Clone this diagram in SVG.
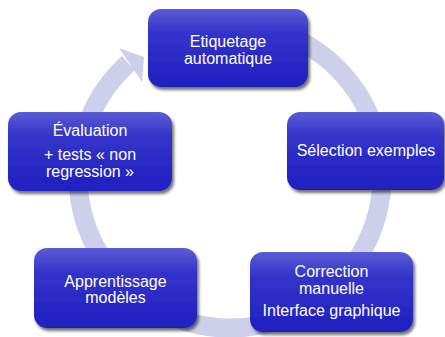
<svg xmlns="http://www.w3.org/2000/svg" width="445" height="337" viewBox="0 0 445 337">
<defs>
<linearGradient id="g" x1="0" y1="0" x2="0" y2="1">
<stop offset="0" stop-color="#5c5cd6"/>
<stop offset="0.3" stop-color="#3434ca"/>
<stop offset="1" stop-color="#1f1fc0"/>
</linearGradient>
<filter id="sh" x="-10%" y="-10%" width="125%" height="130%">
<feDropShadow dx="2" dy="3" stdDeviation="1.8" flood-color="#000" flood-opacity="0.55"/>
</filter>
</defs>
<style>
.box{fill:url(#g);filter:url(#sh);}
.t{fill:#fff;font-family:"Liberation Sans",Arial,sans-serif;font-size:16px;text-anchor:middle;}
.ring{fill:none;stroke:#cdcfeb;stroke-width:19;}
</style>
<g id="connectors">
<path class="ring" d="M216.8,24.6 A152,152 0 1 1 128.3,63.1"/>
<polygon points="119,48 144,57 142,82" fill="#cdcfeb"/>
</g>
<g id="n1">
<rect class="box" x="148" y="9" width="160" height="78" rx="13"/>
<text class="t" x="228" y="47">Etiquetage</text>
<text class="t" x="228" y="63.5">automatique</text>
</g>
<g id="n2">
<rect class="box" x="287" y="112" width="157" height="78" rx="13"/>
<text class="t" x="366" y="156">Sélection exemples</text>
</g>
<g id="n3">
<rect class="box" x="250" y="252" width="163" height="80" rx="13"/>
<text class="t" x="331.5" y="277">Correction</text>
<text class="t" x="331.5" y="293.5">manuelle</text>
<text class="t" x="331.5" y="316">Interface graphique</text>
</g>
<g id="n4">
<rect class="box" x="34" y="248" width="163" height="80" rx="13"/>
<text class="t" x="115.5" y="286.5">Apprentissage</text>
<text class="t" x="115.5" y="303">modèles</text>
</g>
<g id="n5">
<rect class="box" x="8" y="112" width="164" height="79" rx="13"/>
<text class="t" x="90" y="136">Évaluation</text>
<text class="t" x="90" y="160">+ tests « non</text>
<text class="t" x="90" y="176.5">regression »</text>
</g>
</svg>
